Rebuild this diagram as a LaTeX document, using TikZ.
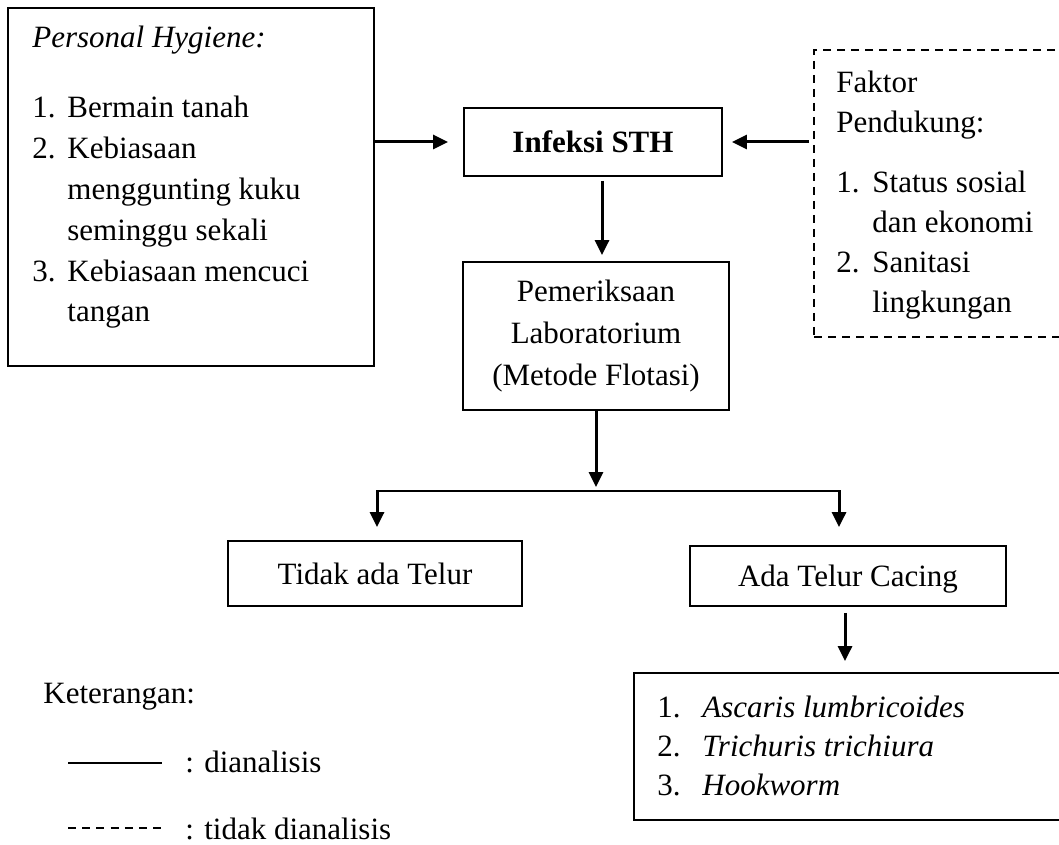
\documentclass[tikz,border=0pt]{standalone}
\usepackage{fontspec}
\setmainfont{Liberation Serif}
\usetikzlibrary{arrows.meta}
\newcommand{\fsz}{\fontsize{15.5pt}{20.4pt}\selectfont}
\begin{document}
\begin{tikzpicture}[x=0.5pt,y=-0.5pt,
  box/.style={draw, line width=0.9pt, inner sep=0pt, font=\fsz},
  dbox/.style={draw, line width=0.9pt, dash pattern=on 4pt off 3pt, inner sep=0pt},
  txt/.style={inner sep=0pt, anchor=base west, font=\fsz},
  arr/.style={line width=1.5pt, -{Triangle[length=7.5pt,width=7pt]}},
  conn/.style={line width=1pt}
]
\useasboundingbox (0,0) rectangle (1059,845);
\fill[white] (0,0) rectangle (1059,845);
\clip (0,0) rectangle (1059,845);

% Personal hygiene box
\node[box, minimum width=183pt, minimum height=179pt] (ph) at (191,187) {};
\node[txt] (phtxt) at (32,48) {\begin{tabular}[t]{@{}p{17.5pt}@{}l@{}}
\multicolumn{2}{@{}l@{}}{\textit{Personal Hygiene:}}\\[14.6pt]
1. & Bermain tanah\\
2. & Kebiasaan\\
   & menggunting kuku\\
   & seminggu sekali\\
3. & Kebiasaan mencuci\\
   & tangan
\end{tabular}};

% Infeksi STH
\node[box, minimum width=129pt, minimum height=34pt, font=\fsz\bfseries] (inf) at (593,142) {Infeksi STH};

% Pemeriksaan
\node[box, minimum width=133pt, minimum height=74pt, align=center,
      font=\fontsize{15.5pt}{21pt}\selectfont] (pem) at (596,336)
      {Pemeriksaan\\Laboratorium\\(Metode Flotasi)};

% Faktor pendukung (dashed, runs off the right edge)
\node[dbox, minimum width=160pt, minimum height=143.5pt] (fk) at (974,193.5) {};
\node[txt, font=\fontsize{15.5pt}{20pt}\selectfont] (fktxt) at (836,93) {\begin{tabular}[t]{@{}p{18pt}@{}l@{}}
\multicolumn{2}{@{}l@{}}{Faktor}\\
\multicolumn{2}{@{}l@{}}{Pendukung:}\\[10pt]
1. & Status sosial\\
   & dan ekonomi\\
2. & Sanitasi\\
   & lingkungan
\end{tabular}};

% Results
\node[box, minimum width=147pt, minimum height=32.5pt] (tid) at (375,573.5) {Tidak ada Telur};
\node[box, minimum width=158pt, minimum height=30pt, text depth=0pt] (ada) at (848,576) {Ada Telur Cacing};

% Species (runs off the right edge)
\node[box, minimum width=250pt, minimum height=73.5pt] (sp) at (884,746.5) {};
\node[txt, font=\fontsize{15.5pt}{19.5pt}\selectfont] (sptxt) at (657,717) {\begin{tabular}[t]{@{}p{22.5pt}@{}l@{}}
1. & \textit{Ascaris lumbricoides}\\
2. & \textit{Trichuris trichiura}\\
3. & \textit{Hookworm}
\end{tabular}};

% Connectors
\draw[arr, shorten >=7.5pt] (ph.east |- inf.west) -- (inf.west);
\draw[arr, shorten <=2pt, shorten >=4.5pt] (fk.west |- inf.east) -- (inf.east);
\draw[arr, shorten <=2pt, shorten >=3pt] ([xshift=4.5pt]inf.south) -- ([xshift=4.5pt]inf.south |- pem.north);

\coordinate (j) at (597,491);
\coordinate (jl) at (377,491);
\coordinate (jr) at (839,491);
\draw[arr, shorten >=2pt] (pem.south) -- (pem.south |- j);
\draw[conn] (jl) -- (jr);
\draw[arr, shorten >=6.5pt] ([yshift=0.5pt]jl) -- (jl |- tid.north);
\draw[arr, shorten >=9pt] ([yshift=0.5pt]jr) -- (jr |- ada.north);
\draw[arr, shorten <=3pt, shorten >=5.5pt] ([xshift=-1.5pt]ada.south) -- ([xshift=-1.5pt]ada.south |- sp.north);

% Legend
\node[txt] (ket) at (43,703) {Keterangan:};
\coordinate (l1a) at (68,763);
\coordinate (l1b) at (162,763);
\draw[conn] (l1a) -- (l1b);
\node[txt] (l1t) at (185,772) {: dianalisis};
\coordinate (l2a) at (68,828);
\coordinate (l2b) at (162,828);
\draw[conn, dash pattern=on 4pt off 3.1pt] (l2a) -- (l2b);
\node[txt] (l2t) at (185,839) {: tidak dianalisis};
\end{tikzpicture}
\end{document}
